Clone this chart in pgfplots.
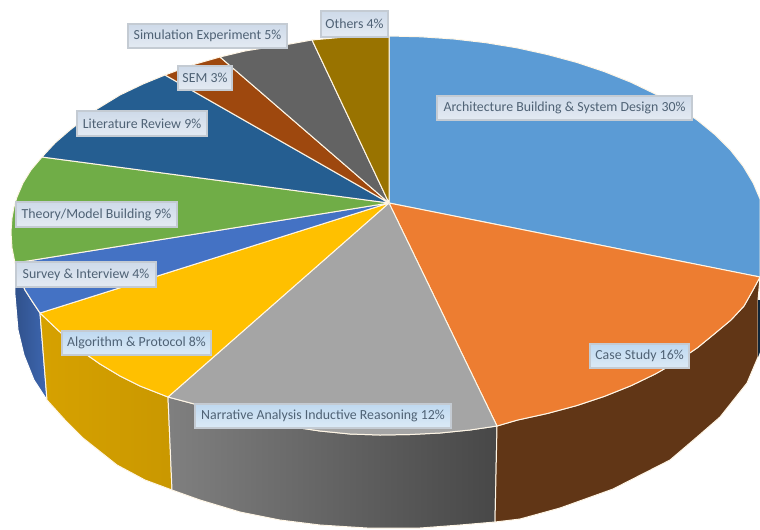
\documentclass[border=0pt]{standalone}
\usepackage{fontspec}
\setmainfont{Carlito}
\usepackage{pgfplots}
\pgfplotsset{compat=1.18}
\usetikzlibrary{shadings}

\definecolor{archblue}{HTML}{5B9BD5}
\definecolor{caseorange}{HTML}{ED7D31}
\definecolor{narrgray}{HTML}{A5A5A5}
\definecolor{algoyellow}{HTML}{FFC000}
\definecolor{survblue}{HTML}{4472C4}
\definecolor{theogreen}{HTML}{70AD47}
\definecolor{litblue}{HTML}{255E91}
\definecolor{semrust}{HTML}{9E480E}
\definecolor{simgray}{HTML}{636363}
\definecolor{othgold}{HTML}{997300}
\definecolor{seam}{HTML}{FFF6E6}
\definecolor{labeltext}{HTML}{4F6275}
\definecolor{labeledge}{HTML}{C4CBD3}
\definecolor{casewall}{HTML}{613616}
\definecolor{tagcool}{HTML}{CEDAE9}
\definecolor{tagsky}{HTML}{BFD9F0}

\tikzset{
  slice/.style={draw=seam, line width=1pt, line join=round},
  tag/.style={draw=labeledge, line width=1.1pt, top color=#1, bottom color=#1!55!white,
    inner sep=0pt, text=labeltext, align=center,
    font=\fontsize{13.9}{16}\selectfont, anchor=center},
}
% data label: optional tint, then x0, y0, x1, y1 in picture units, then its text
\newcommand{\tagbox}[6][tagcool]{%
  \node[tag=#1, minimum width={(#4-#2)*1bp}, minimum height={(#5-#3)*1bp}]
    at (axis cs:{(#2+#4)/2},{(#3+#5)/2}) {#6};}

\begin{document}
\begin{tikzpicture}
\begin{axis}[
  scale only axis, width=760bp, height=529bp,
  xmin=0, xmax=760, ymin=0, ymax=529, y dir=reverse,
  axis lines=none, ticks=none, clip=true,
]
% side wall of the disc
\addplot[slice, draw=white, left color=black!5!survblue!75!black, right color=survblue!90!black] coordinates {
 (15,263)(19,276)(25,290)(32,301)(40,313)(47,400)(34,380)(24,355)(18,330)(15,295)(15,263)};
\addplot[slice, left color=algoyellow!84!black, right color=algoyellow!79!black] coordinates {
 (40,313)(60,332)(80,350)(100,364)(120,376)(140,386)(168,397)(172,490)(145,480)(117,465)(83,438)(65,420)(47,400)(40,313)};
\addplot[slice, left color=black!50, right color=black!72] coordinates {
 (168,397)(200,405.5)(230,413)(260,420.5)(290,426.5)(320,431)(350,434)(380,435)(410,434.5)(440,433)(470,430)(497,426)
 (495,522)(460,525)(420,528)(367,528)(320,525)(280,520)(240,512)(200,500)(172,490)(168,397)};
\addplot[slice, fill=casewall] coordinates {
 (497,426)(517.3,420.1)(547.7,413.4)(577,405.5)(604.8,396.2)(631,385.7)(655.3,374)(677.5,361.3)(697.6,347.6)(715.4,333)(731,320)(744,306)(753,290)(760,277)
 (758,300)(758,357)(747,383)(720,417)(697,437)(670,460)(613,489)(560,508)(520,519)(495,522)(497,426)};
\addplot[draw=none, fill=black!60!litblue] coordinates {(758,300)(760,300)(760,352)(758,357)(758,300)};

% top face, one slice per category
\addplot[slice, fill=archblue] coordinates {
 (389,203)(389,36)(421,36.8)(453.6,39)(485.8,42.7)(517.3,47.9)(547.7,54.6)(577,62.5)(604.8,71.8)(631,82.3)(655.3,94)(677.5,106.7)(697.6,120.4)(715.4,135)(730.6,150.3)(743.2,166.3)(753.1,182.8)(760,199)(760,277)(389,203)};
\addplot[slice, fill=caseorange] coordinates {
 (389,203)(760,277)(753,290)(744,306)(731,320)(715.4,333)(697.6,347.6)(677.5,361.3)(655.3,374)(631,385.7)(604.8,396.2)(577,405.5)(547.7,413.4)(517.3,420.1)(497,426)(389,203)};
\addplot[slice, fill=narrgray] coordinates {
 (389,203)(497,426)(470,430)(440,433)(410,434.5)(380,435)(350,434)(320,431)(290,426.5)(260,420.5)(230,413)(200,405.5)(168,397)(389,203)};
\addplot[slice, fill=algoyellow] coordinates {
 (389,203)(168,397)(140,386)(120,376)(100,364)(80,350)(60,332)(40,313)(389,203)};
\addplot[slice, fill=survblue] coordinates {
 (389,203)(40,313)(32,301)(25,290)(19,276)(15,263)(389,203)};
\addplot[slice, fill=theogreen] coordinates {
 (389,203)(15,263)(12,248)(11,232)(12,218)(14,207)(17,197)(23,183)(31,170)(42,157)(389,203)};
\addplot[slice, fill=litblue] coordinates {
 (389,203)(42,157)(55,143)(70,130)(97,109)(120,95)(143,84)(165,75)(389,203)};
\addplot[slice, fill=semrust] coordinates {
 (389,203)(165,75)(192,65)(220,57)(389,203)};
\addplot[slice, fill=simgray] coordinates {
 (389,203)(220,57)(245,51)(270,47)(290,44)(312,40)(389,203)};
\addplot[slice, fill=othgold] coordinates {
 (389,203)(312,40)(340,37.5)(365,36.3)(389,36)(389,203)};

% data labels
\tagbox{437}{96}{692}{120}{Architecture Building \& System Design 30\%}
\tagbox[tagsky]{590}{344}{689}{368}{Case Study 16\%}
\tagbox[tagsky]{195}{404}{451}{428}{Narrative Analysis Inductive Reasoning 12\%}
\tagbox[tagsky]{62}{331}{211}{355}{Algorithm \& Protocol 8\%}
\tagbox{16}{262}{156}{287}{Survey \& Interview 4\%}
\tagbox{16}{202}{177}{227}{Theory/Model Building 9\%}
\tagbox{77}{111}{207}{136}{Literature Review 9\%}
\tagbox{178}{66}{232}{90}{SEM 3\%}
\tagbox{128}{24}{287}{48}{Simulation Experiment 5\%}
\tagbox{321}{11}{388}{37}{Others 4\%}
\end{axis}
\pgfresetboundingbox
\path[use as bounding box] (current axis.south west) rectangle (current axis.north east);
\end{tikzpicture}
\end{document}
